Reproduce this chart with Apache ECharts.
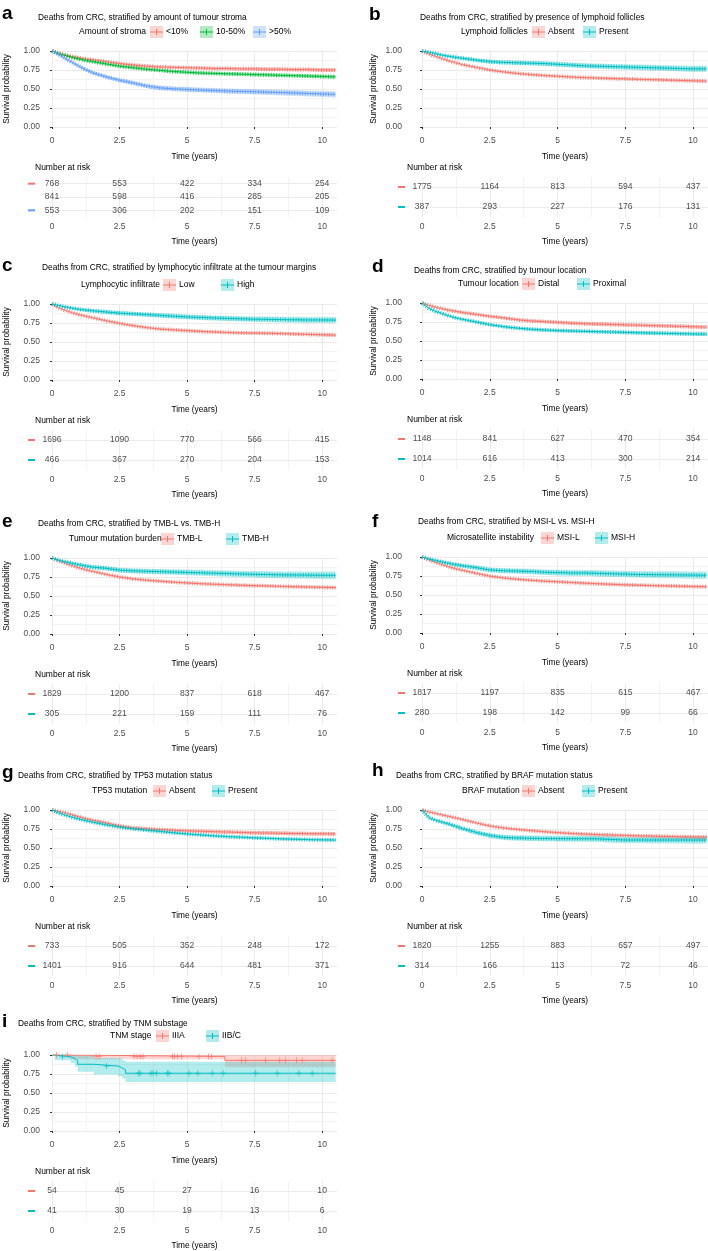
<!DOCTYPE html>
<html><head><meta charset="utf-8">
<script src="https://cdn.jsdelivr.net/npm/echarts@6/dist/echarts.min.js"></script>
<style>html,body{margin:0;padding:0;background:#fff}#c{width:708px;height:1251px}</style>
</head><body><div id="c"></div>
<script>
// ---------- shared time grid (years) for the dense curves ----------
const T = [0,0.25,0.5,0.75,1,1.25,1.5,2,2.5,3,3.5,4,4.5,5,5.5,6,6.5,7,7.5,8,8.5,9,9.5,10,10.5];

// confidence-band half widths (survival units)
const hwS  = [0,0.005,0.007,0.008,0.009,0.01,0.01,0.011,0.012,0.012,0.013,0.013,0.013,0.014,0.014,0.014,0.014,0.015,0.015,0.015,0.015,0.016,0.016,0.016,0.017];
const hwM  = [0,0.007,0.01,0.012,0.013,0.014,0.015,0.016,0.017,0.018,0.018,0.019,0.019,0.02,0.02,0.02,0.021,0.021,0.021,0.022,0.022,0.022,0.023,0.023,0.024];
const hwL  = [0,0.01,0.014,0.017,0.019,0.021,0.023,0.025,0.027,0.028,0.029,0.03,0.031,0.032,0.033,0.033,0.034,0.035,0.036,0.037,0.038,0.039,0.04,0.041,0.042];
const hwXL = [0,0.012,0.017,0.02,0.023,0.025,0.027,0.03,0.032,0.034,0.035,0.036,0.037,0.038,0.039,0.04,0.041,0.042,0.043,0.044,0.045,0.046,0.047,0.048,0.05];

// a: amount of stroma
const a_lt10   = [1,0.97,0.945,0.925,0.91,0.895,0.885,0.86,0.835,0.815,0.80,0.79,0.785,0.78,0.775,0.77,0.77,0.765,0.765,0.76,0.76,0.755,0.755,0.75,0.75];
const a_10to50 = [1,0.965,0.94,0.915,0.895,0.875,0.86,0.83,0.80,0.78,0.76,0.745,0.73,0.72,0.71,0.705,0.70,0.695,0.69,0.685,0.68,0.675,0.67,0.665,0.66];
const a_gt50   = [1,0.95,0.9,0.85,0.8,0.755,0.715,0.66,0.615,0.58,0.54,0.515,0.503,0.494,0.486,0.479,0.473,0.468,0.463,0.458,0.453,0.447,0.441,0.435,0.43];
// b: lymphoid follicles
const b_absent  = [1,0.96,0.93,0.9,0.87,0.845,0.82,0.785,0.75,0.725,0.705,0.69,0.678,0.668,0.658,0.65,0.644,0.638,0.633,0.628,0.623,0.618,0.613,0.608,0.603];
const b_present = [1,0.985,0.965,0.945,0.93,0.915,0.905,0.88,0.86,0.85,0.845,0.84,0.835,0.825,0.815,0.805,0.80,0.795,0.79,0.785,0.78,0.775,0.77,0.765,0.765];
// c: lymphocytic infiltrate
const c_low  = [1,0.95,0.915,0.885,0.86,0.84,0.82,0.78,0.745,0.715,0.69,0.67,0.66,0.65,0.64,0.632,0.625,0.62,0.618,0.615,0.61,0.605,0.6,0.595,0.59];
const c_high = [1,0.98,0.96,0.945,0.93,0.92,0.91,0.895,0.88,0.87,0.86,0.85,0.84,0.83,0.823,0.816,0.81,0.805,0.80,0.798,0.795,0.792,0.79,0.79,0.788];
// d: tumour location
const d_distal   = [1,0.97,0.945,0.925,0.905,0.89,0.875,0.85,0.825,0.805,0.78,0.765,0.755,0.745,0.735,0.728,0.722,0.718,0.712,0.708,0.703,0.698,0.693,0.688,0.683];
const d_proximal = [1,0.93,0.89,0.86,0.83,0.805,0.785,0.75,0.715,0.69,0.67,0.655,0.645,0.637,0.632,0.627,0.622,0.618,0.613,0.608,0.604,0.6,0.597,0.593,0.59];
// e: TMB
const e_tmbl = [1,0.965,0.93,0.9,0.87,0.845,0.825,0.785,0.75,0.725,0.708,0.695,0.682,0.672,0.662,0.655,0.648,0.642,0.636,0.632,0.627,0.622,0.618,0.614,0.61];
const e_tmbh = [1,0.97,0.95,0.93,0.912,0.895,0.88,0.865,0.84,0.83,0.825,0.82,0.815,0.81,0.805,0.8,0.795,0.79,0.785,0.782,0.778,0.776,0.775,0.773,0.772];
// f: MSI
const f_msil = [1,0.965,0.93,0.9,0.87,0.845,0.825,0.785,0.748,0.725,0.708,0.695,0.683,0.674,0.665,0.656,0.648,0.641,0.634,0.629,0.624,0.62,0.616,0.612,0.608];
const f_msih = [1,0.975,0.955,0.935,0.915,0.9,0.885,0.86,0.83,0.82,0.815,0.81,0.8,0.795,0.79,0.79,0.785,0.78,0.775,0.77,0.768,0.766,0.764,0.762,0.76];
// g: TP53
const g_absent  = [1,0.98,0.96,0.935,0.91,0.885,0.865,0.83,0.79,0.765,0.752,0.742,0.733,0.725,0.72,0.715,0.71,0.705,0.7,0.697,0.694,0.691,0.689,0.687,0.685];
const g_present = [1,0.96,0.93,0.905,0.88,0.86,0.84,0.805,0.775,0.752,0.735,0.718,0.7,0.685,0.672,0.66,0.65,0.642,0.634,0.627,0.62,0.615,0.61,0.607,0.605];
// h: BRAF
const h_absent  = [1,0.975,0.955,0.935,0.915,0.895,0.875,0.83,0.79,0.765,0.745,0.73,0.715,0.702,0.692,0.683,0.676,0.67,0.665,0.66,0.656,0.652,0.649,0.646,0.643];
const h_present = [1,0.9,0.865,0.84,0.815,0.785,0.755,0.705,0.665,0.64,0.632,0.628,0.625,0.623,0.622,0.621,0.62,0.612,0.605,0.605,0.605,0.605,0.605,0.605,0.605];

// i: TNM substage (step curves)
const i_iiia_t  = [0,0.65,6.4,10.5];
const i_iiia_s  = [1,0.981,0.93,0.93];
const i_iiia_lo = [1,0.945,0.84,0.84];
const i_iiia_hi = [1,1,1,1];
const i_iibc_t  = [0,0.1,0.7,0.85,0.95,1.55,2.45,2.6,2.72,10.5];
const i_iibc_s  = [1,0.976,0.951,0.927,0.878,0.854,0.829,0.805,0.76,0.76];
const i_iibc_lo = [1,0.93,0.89,0.85,0.78,0.745,0.72,0.69,0.645,0.645];
const i_iibc_hi = [1,1,1,1,0.99,0.96,0.955,0.93,0.91,0.91];
const i_iiia_cens = [[0.17,1],[0.58,1],[1.63,0.981],[1.75,0.981],[3.04,0.981],[3.15,0.981],[3.27,0.981],[3.37,0.981],[4.46,0.981],[4.53,0.981],[4.65,0.981],[4.8,0.981],[5.44,0.981],[5.79,0.981],[5.9,0.981],[7.02,0.93],[7.17,0.93],[7.9,0.93],[8.43,0.93],[8.64,0.93],[9.05,0.93],[9.26,0.93],[10.37,0.93]];
const i_iibc_cens = [[0.39,0.976],[2.02,0.854],[3.2,0.76],[3.26,0.76],[3.66,0.76],[3.74,0.76],[3.87,0.76],[4.27,0.76],[4.33,0.76],[5.07,0.76],[5.4,0.76],[5.93,0.76],[6.33,0.76],[7.54,0.76],[8.34,0.76],[9.14,0.76],[9.63,0.76]];

// number at risk
const riskTimes = [0,2.5,5,7.5,10];
const a_risk = [[768,553,422,334,254],[841,598,416,285,205],[553,306,202,151,109]];
const b_risk = [[1775,1164,813,594,437],[387,293,227,176,131]];
const c_risk = [[1696,1090,770,566,415],[466,367,270,204,153]];
const d_risk = [[1148,841,627,470,354],[1014,616,413,300,214]];
const e_risk = [[1829,1200,837,618,467],[305,221,159,111,76]];
const f_risk = [[1817,1197,835,615,467],[280,198,142,99,66]];
const g_risk = [[733,505,352,248,172],[1401,916,644,481,371]];
const h_risk = [[1820,1255,883,657,497],[314,166,113,72,46]];
const i_risk = [[54,45,27,16,10],[41,30,19,13,6]];

const RED='#F8766D', TEAL='#00BFC4', GREEN='#00BA38', BLUE='#619CFF';
const FONT='"Liberation Sans", Arial, Helvetica, sans-serif';
function fade(hex,a){const n=parseInt(hex.slice(1),16);return 'rgba('+(n>>16)+','+((n>>8)&255)+','+(n&255)+','+a+')';}

const panels = [
 {L:'a',col:0,y0:51, lb:[2,23],  title:'Deaths from CRC, stratified by amount of tumour stroma', tt:[38,18], leg:'Amount of stroma', lx:79, kx:[150,200,253], names:['<10%','10-50%','>50%'], colors:[RED,GREEN,BLUE], s:[a_lt10,a_10to50,a_gt50], hw:[hwM,hwM,hwL], risk:a_risk},
 {L:'b',col:1,y0:51, lb:[369,24], title:'Deaths from CRC, stratified by presence of lymphoid follicles', tt:[420,18], leg:'Lymphoid follicles', lx:461, kx:[532,583], names:['Absent','Present'], colors:[RED,TEAL], s:[b_absent,b_present], hw:[hwS,hwL], risk:b_risk},
 {L:'c',col:0,y0:304,lb:[2,275], title:'Deaths from CRC, stratified by lymphocytic infiltrate at the tumour margins', tt:[42,268], leg:'Lymphocytic infiltrate', lx:81, kx:[163,221], names:['Low','High'], colors:[RED,TEAL], s:[c_low,c_high], hw:[hwS,hwL], risk:c_risk},
 {L:'d',col:1,y0:303,lb:[372,276], title:'Deaths from CRC, stratified by tumour location', tt:[414,271], leg:'Tumour location', lx:458, kx:[522,577], names:['Distal','Proximal'], colors:[RED,TEAL], s:[d_distal,d_proximal], hw:[hwM,hwM], risk:d_risk},
 {L:'e',col:0,y0:558,lb:[2,531], title:'Deaths from CRC, stratified by TMB-L vs. TMB-H', tt:[38,524], leg:'Tumour mutation burden', lx:69, kx:[161,226], names:['TMB-L','TMB-H'], colors:[RED,TEAL], s:[e_tmbl,e_tmbh], hw:[hwS,hwXL], risk:e_risk},
 {L:'f',col:1,y0:557,lb:[372,531], title:'Deaths from CRC, stratified by MSI-L vs. MSI-H', tt:[418,522], leg:'Microsatellite instability', lx:447, kx:[541,595], names:['MSI-L','MSI-H'], colors:[RED,TEAL], s:[f_msil,f_msih], hw:[hwS,hwXL], risk:f_risk},
 {L:'g',col:0,y0:810,lb:[2,782], title:'Deaths from CRC, stratified by TP53 mutation status', tt:[18,776], leg:'TP53 mutation', lx:92, kx:[153,212], names:['Absent','Present'], colors:[RED,TEAL], s:[g_absent,g_present], hw:[hwM,hwS], risk:g_risk},
 {L:'h',col:1,y0:810,lb:[372,780], title:'Deaths from CRC, stratified by BRAF mutation status', tt:[396,776], leg:'BRAF mutation', lx:462, kx:[522,582], names:['Absent','Present'], colors:[RED,TEAL], s:[h_absent,h_present], hw:[hwS,hwXL], risk:h_risk},
 {L:'i',col:0,y0:1055,lb:[2,1031], title:'Deaths from CRC, stratified by TNM substage', tt:[18,1024], leg:'TNM stage', lx:110, kx:[156,206], names:['IIIA','IIB/C'], colors:[RED,TEAL], step:true, risk:i_risk}
];

const grids=[], xAxes=[], yAxes=[], series=[], graphics=[];
function txt(x,y,text,size,extra){
  const st=Object.assign({text:text,fontSize:size,fontFamily:FONT,fill:'#000',align:'left',verticalAlign:'middle',textAlign:'left',textVerticalAlign:'middle'},extra||{});
  return {type:'text',x:x,y:y,silent:true,style:st};
}
const GRID='#ebebeb', MINOR='#f3f3f3', AXTXT='#4d4d4d';

// confidence band drawn as one polygon through the library's coordinate transform
function band(gi, color, upper, lower){
  const pts = upper.concat(lower.slice().reverse());
  series.push({type:'custom', xAxisIndex:gi, yAxisIndex:gi, silent:true, z:1, clip:true,
    data:pts, encode:{x:0,y:1},
    renderItem:(params, api)=>{
      if(params.dataIndex!==0) return null;
      return {type:'polygon', shape:{points:pts.map(q=>api.coord(q))}, style:{fill:fade(color,0.3)}};
    }});
}
function stepped(t, v){
  const out=[];
  for(let m=0;m<t.length;m++){ out.push([t[m],v[m]]); if(m<t.length-1) out.push([t[m+1],v[m]]); }
  return out;
}

panels.forEach((p,k)=>{
  const X0 = p.col ? 422 : 52;
  const W  = p.col ? 286 : 285;
  const gi = grids.length;
  grids.push({left:X0, top:p.y0, width:W, height:76, containLabel:false, outerBoundsMode:'none'});
  grids.push({left:X0, top:p.y0+126, width:W, height:40, containLabel:false, outerBoundsMode:'none'});
  xAxes.push({gridIndex:gi, type:'value', min:0, max:10.55, interval:2.5,
    axisLine:{show:false}, axisTick:{show:true,length:2,lineStyle:{color:'#333',width:1}},
    axisLabel:{fontSize:8.5,color:AXTXT,margin:9,showMaxLabel:false,fontFamily:FONT},
    splitLine:{show:true,showMaxLine:false,lineStyle:{color:GRID,width:1}},
    minorTick:{show:false,splitNumber:2}, minorSplitLine:{show:true,lineStyle:{color:MINOR,width:1}},
    name:'Time (years)', nameLocation:'middle', nameGap:26, nameTextStyle:{fontSize:8.3,color:'#000',fontFamily:FONT}});
  yAxes.push({gridIndex:gi, type:'value', min:0, max:1, interval:0.25,
    axisLine:{show:false}, axisTick:{show:true,length:2,lineStyle:{color:'#333',width:1}},
    axisLabel:{fontSize:8.5,color:AXTXT,margin:p.col?20:12,fontFamily:FONT,formatter:v=>v.toFixed(2)},
    splitLine:{show:true,lineStyle:{color:GRID,width:1}},
    minorTick:{show:false,splitNumber:2}, minorSplitLine:{show:true,lineStyle:{color:MINOR,width:1}},
    name:'Survival probability', nameLocation:'middle', nameRotate:90, nameGap:p.col?44:41,
    nameTextStyle:{fontSize:8.3,color:'#000',fontFamily:FONT}});
  xAxes.push({gridIndex:gi+1, type:'value', min:0, max:10.55, interval:2.5,
    axisLine:{show:false}, axisTick:{show:false},
    axisLabel:{fontSize:8.5,color:AXTXT,margin:5,showMaxLabel:false,fontFamily:FONT},
    splitLine:{show:true,showMaxLine:false,lineStyle:{color:GRID,width:1}},
    minorTick:{show:false,splitNumber:2}, minorSplitLine:{show:true,lineStyle:{color:MINOR,width:1}},
    name:'Time (years)', nameLocation:'middle', nameGap:21, nameTextStyle:{fontSize:8.3,color:'#000',fontFamily:FONT}});
  const rich={};
  p.colors.forEach((c,j)=>{rich['s'+j]={width:7,height:2,backgroundColor:c,fontSize:2,lineHeight:2};});
  yAxes.push({gridIndex:gi+1, type:'category', data:p.names, inverse:true,
    axisLine:{show:false}, axisTick:{show:false}, splitLine:{show:false},
    axisLabel:{margin:17, formatter:(v,i)=>'{s'+i+'| }', rich:rich}});

  if(!p.step){
    p.s.forEach((s,j)=>{
      const c=p.colors[j], hw=p.hw[j];
      band(gi, c, T.map((t,m)=>[t,s[m]+hw[m]]), T.map((t,m)=>[t,s[m]-hw[m]]));
      const pts=T.map((t,m)=>[t,s[m]]);
      series.push({type:'line',xAxisIndex:gi,yAxisIndex:gi,silent:true,symbol:'none',z:3,data:pts,
        lineStyle:{color:c,width:1},itemStyle:{color:c}});
      series.push({type:'line',xAxisIndex:gi,yAxisIndex:gi,silent:true,symbol:'none',z:3,data:pts,
        lineStyle:{color:c,width:4,type:[1,1.6],opacity:0.85},itemStyle:{color:c}});
    });
  } else {
    const sets=[[i_iiia_t,i_iiia_s,i_iiia_lo,i_iiia_hi,i_iiia_cens],[i_iibc_t,i_iibc_s,i_iibc_lo,i_iibc_hi,i_iibc_cens]];
    sets.forEach((d,j)=>{
      const c=p.colors[j];
      band(gi, c, stepped(d[0],d[3]), stepped(d[0],d[2]));
      series.push({type:'line',xAxisIndex:gi,yAxisIndex:gi,step:'end',silent:true,symbol:'none',z:3,
        data:d[0].map((t,m)=>[t,d[1][m]]),lineStyle:{color:c,width:1},itemStyle:{color:c}});
      series.push({type:'scatter',xAxisIndex:gi,yAxisIndex:gi,silent:true,z:4,data:d[4],
        symbol:'path://M4.3,0H5.7V10H4.3Z M0,4.3H10V5.7H0Z',symbolSize:[6,6],itemStyle:{color:c}});
    });
  }

  series.push({type:'scatter',xAxisIndex:gi+1,yAxisIndex:gi+1,silent:true,z:5,
    symbol:'circle',symbolSize:1,itemStyle:{color:'rgba(0,0,0,0)'},
    data:p.risk.flatMap((row,i)=>row.map((n,m)=>[riskTimes[m],i,n])),
    label:{show:true,position:'inside',formatter:q=>String(q.data[2]),fontSize:8.6,color:'#1a1a1a',fontFamily:FONT},
    markLine:{silent:true,z:1,symbol:['none','none'],label:{show:false},
      lineStyle:{color:GRID,type:'solid',width:1},data:p.names.map((n,i)=>({yAxis:i}))}});

  graphics.push(txt(p.lb[0],p.lb[1],p.L,19,{fontWeight:'bold',verticalAlign:'bottom',textVerticalAlign:'bottom'}));
  graphics.push(txt(p.tt[0],p.tt[1],p.title,8.35));
  const ly=p.y0-19;
  graphics.push(txt(p.lx,ly,p.leg,8.5));
  p.kx.forEach((kx,j)=>{
    const c=p.colors[j];
    graphics.push({type:'rect',silent:true,shape:{x:kx,y:ly-6,width:13,height:12},style:{fill:fade(c,0.3)}});
    graphics.push({type:'line',silent:true,shape:{x1:kx,y1:ly,x2:kx+13,y2:ly},style:{stroke:c,lineWidth:1}});
    graphics.push({type:'line',silent:true,shape:{x1:kx+6.5,y1:ly-3,x2:kx+6.5,y2:ly+3},style:{stroke:c,lineWidth:1}});
    graphics.push(txt(kx+16,ly,p.names[j],8.5));
  });
  graphics.push(txt(p.col?407:35,p.y0+117,'Number at risk',8.5));
});

const chart = echarts.init(document.getElementById('c'), null, {renderer:'canvas', width:708, height:1251});
chart.setOption({
  animation:false, backgroundColor:'#fff',
  textStyle:{fontFamily:FONT},
  grid:grids, xAxis:xAxes, yAxis:yAxes, series:series, graphic:graphics
});
</script>
</body></html>
